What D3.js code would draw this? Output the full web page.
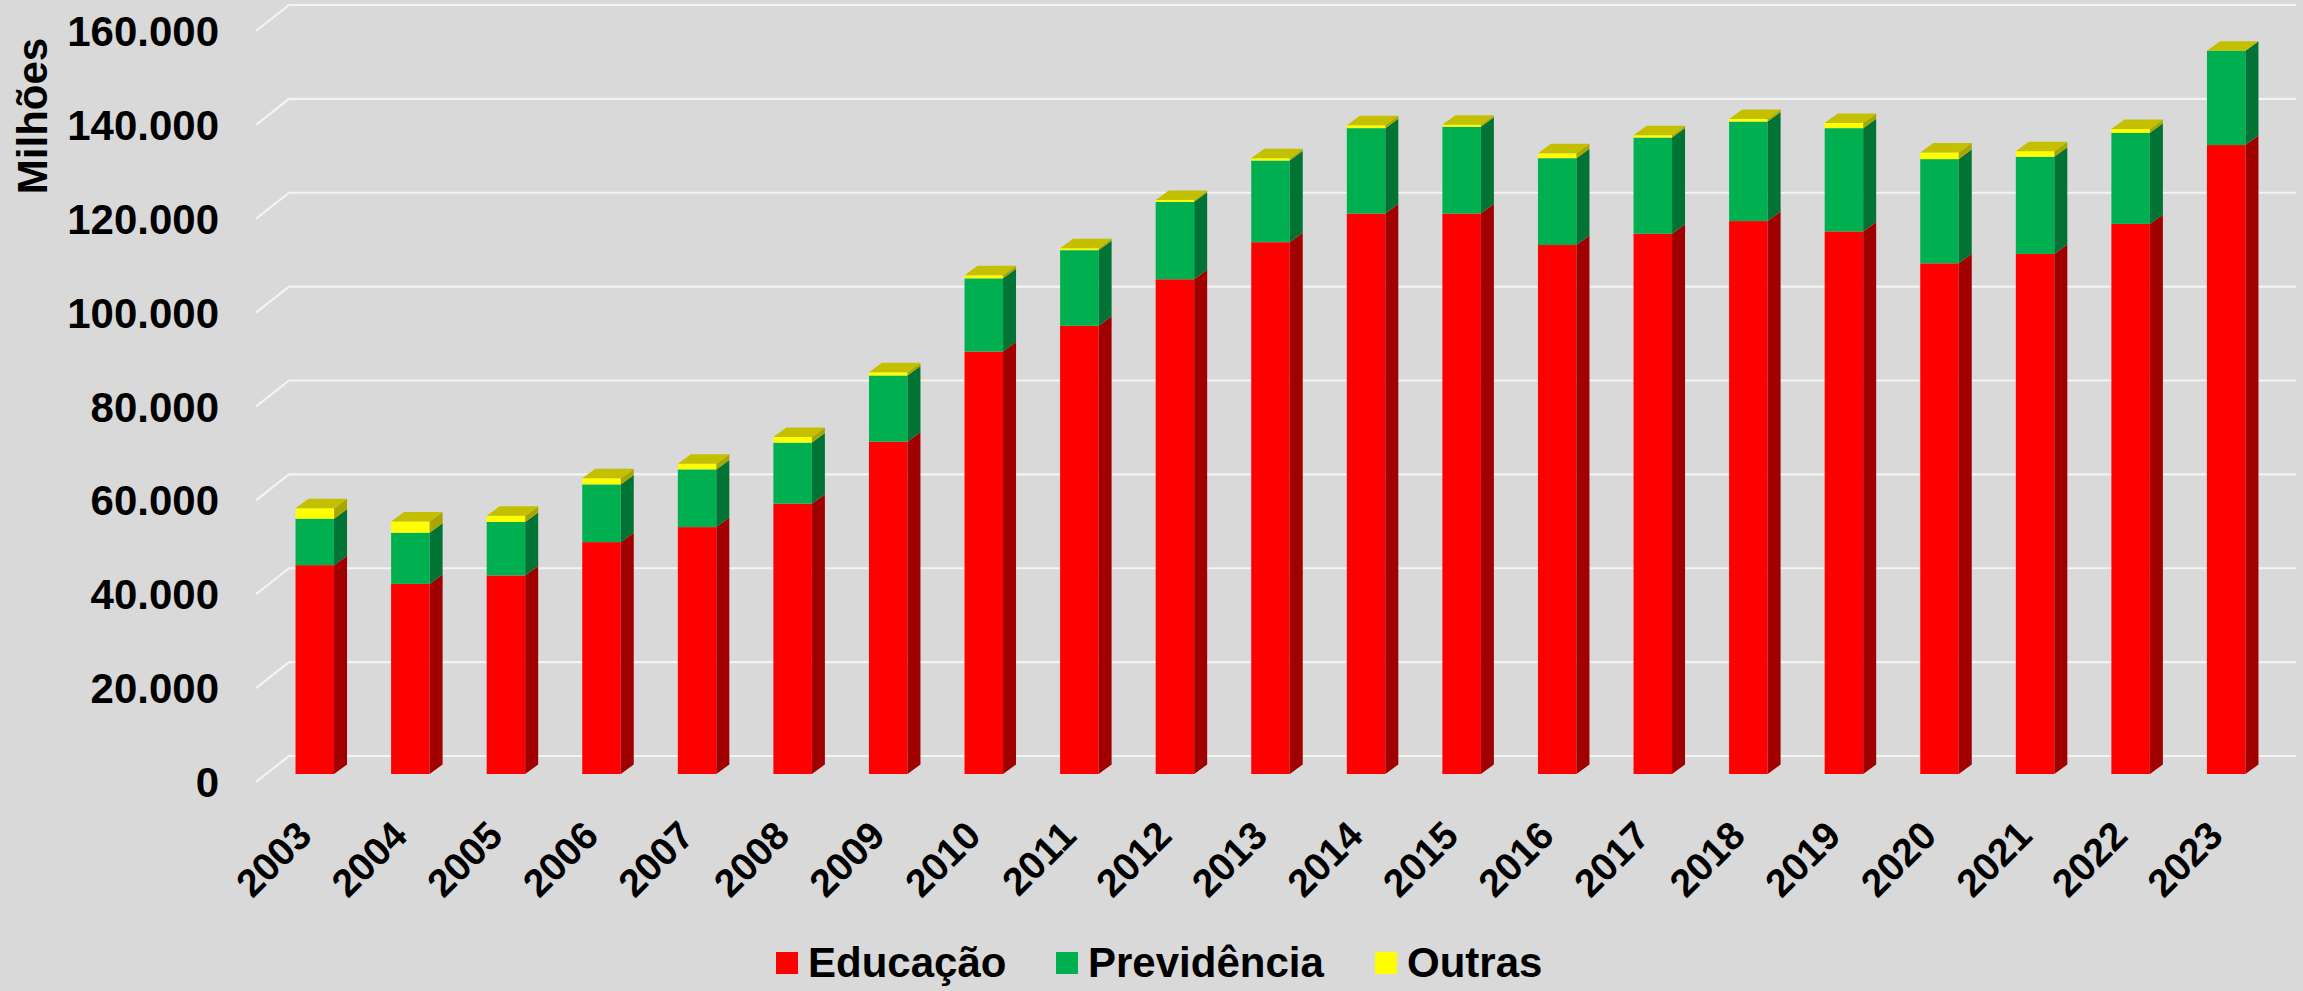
<!DOCTYPE html>
<html>
<head>
<meta charset="utf-8">
<title>Educação, Previdência, Outras</title>
<script src="https://cdnjs.cloudflare.com/ajax/libs/d3/7.8.5/d3.min.js"></script>
<style>
  html, body { margin: 0; padding: 0; background: #d9d9d9; }
  text { font-family: Arial, "Liberation Sans", sans-serif; font-weight: bold; fill: #000; }
</style>
</head>
<body>
<script>

// data (milhões)
var years = ["2003","2004","2005","2006","2007","2008","2009","2010","2011","2012","2013",
             "2014","2015","2016","2017","2018","2019","2020","2021","2022","2023"]
var educacao = [44500, 40500, 42300, 49400, 52600, 57600, 70800, 90000, 95500, 105400, 113300,
                119400, 119400, 112700, 115100, 117800, 115600, 108800, 110800, 117200, 134000]
var previdencia = [9900, 10900, 11400, 12300, 12300, 13000, 14100, 15600, 16100, 16500, 17400,
                   18200, 18500, 18500, 20500, 21200, 22000, 22200, 20700, 19400, 20100]
var outras = [2200, 2400, 1300, 1300, 1200, 1200, 700, 650, 400, 400, 500,
              600, 400, 1050, 500, 550, 1100, 1400, 1200, 800, 0]
var yTicks = [0, 20000, 40000, 60000, 80000, 100000, 120000, 140000, 160000]
var seriesNames = ["Educação", "Previdência", "Outras"]

var W = 2303, H = 991

// colours: front, side, top
var colours = [
    { front: "#ff0000", side: "#a00000", top: "#c80000" },
    { front: "#00b050", side: "#007335", top: "#008a3c" },
    { front: "#ffff00", side: "#aaa600", top: "#c4c000" }
]

var svg = d3.select("body").append("svg")
    .attr("width", W)
    .attr("height", H)
    .style("display", "block")
    .style("background", "#d9d9d9")

// back wall geometry
var wallLeft = 289, wallRight = 2296
var depthX = 33, depthY = 26       // floor depth (front is left / down)
var barFrontDX = -22, barFrontDY = 18
var barSideDX = 13, barSideDY = 9.5
var barW = 38.5

var x = d3.scaleBand()
    .domain(years)
    .range([wallLeft, wallRight])
    .padding(0)

var y = d3.scaleLinear()
    .domain([0, 160000])
    .range([756, 5])

// gridlines: short diagonal on the floor side + back wall line
var grid = svg.append("g")
grid.selectAll("path")
    .data(yTicks)
    .enter()
    .append("path")
    .attr("d", function(d){
        var yy = y(d)
        return "M" + (wallLeft - depthX) + "," + (yy + depthY) + "L" + wallLeft + "," + yy + "L" + wallRight + "," + yy
    })
    .attr("fill", "none")
    .attr("stroke", "#f4f4f4")
    .attr("stroke-width", 2.2)

// y labels
svg.append("g").selectAll("text")
    .data(yTicks)
    .enter()
    .append("text")
    .attr("x", 219)
    .attr("y", function(d){ return y(d) + depthY })
    .attr("dy", "0.36em")
    .attr("text-anchor", "end")
    .style("font-size", "42px")
    .text(function(d){ return d3.format(",")(d).replace(/,/g, ".") })

svg.append("text")
    .attr("transform", "translate(47,116) rotate(-90)")
    .attr("text-anchor", "middle")
    .style("font-size", "42px")
    .text("Milhões")

// stacked data
var stackData = years.map(function(yr, i){
    return { year: yr, "Educação": educacao[i], "Previdência": previdencia[i], "Outras": outras[i] }
})
var stacked = d3.stack().keys(seriesNames)(stackData)

function frontLeft(yr){
    return x(yr) + x.bandwidth() / 2 + barFrontDX - barW / 2
}

// draw boxes bar by bar, segment by segment, so that top faces overlay correctly
var bars = svg.append("g")
years.forEach(function(yr, i){
    var g = bars.append("g")
    stacked.forEach(function(layer, s){
        var seg = layer[i]
        var x0 = frontLeft(yr), x1 = x0 + barW
        var yb = y(seg[0]) + barFrontDY, yt = y(seg[1]) + barFrontDY
        var c = colours[s]
        g.append("rect")
            .attr("x", x0).attr("y", yt)
            .attr("width", barW).attr("height", Math.max(0, yb - yt))
            .attr("fill", c.front)
        g.append("path")
            .attr("d", "M" + x1 + "," + yb + "L" + (x1 + barSideDX) + "," + (yb - barSideDY) +
                "L" + (x1 + barSideDX) + "," + (yt - barSideDY) + "L" + x1 + "," + yt + "Z")
            .attr("fill", c.side)
    })
    // top face uses the top series colour
    var topY = y(stacked[2][i][1]) + barFrontDY
    var x0 = frontLeft(yr), x1 = x0 + barW
    g.append("path")
        .attr("d", "M" + x0 + "," + topY + "L" + x1 + "," + topY + "L" + (x1 + barSideDX) + "," + (topY - barSideDY) +
            "L" + (x0 + barSideDX) + "," + (topY - barSideDY) + "Z")
        .attr("fill", colours[2].top)
})

// x labels
svg.append("g").selectAll("text")
    .data(years)
    .enter()
    .append("text")
    .attr("transform", function(d){
        var cx = x(d) + x.bandwidth() / 2 + barFrontDX - 1
        return "translate(" + cx + ",838) rotate(-45)"
    })
    .attr("text-anchor", "end")
    .style("font-size", "39px")
    .text(function(d){ return d })

// legend
var legendX = [776, 1056, 1375]
var legend = svg.append("g")
seriesNames.forEach(function(name, i){
    legend.append("rect")
        .attr("x", legendX[i]).attr("y", 952)
        .attr("width", 22).attr("height", 22)
        .attr("fill", colours[i].front)
    legend.append("text")
        .attr("x", legendX[i] + 32)
        .attr("y", 977)
        .style("font-size", "42px")
        .text(name)
})

</script>
</body>
</html>
